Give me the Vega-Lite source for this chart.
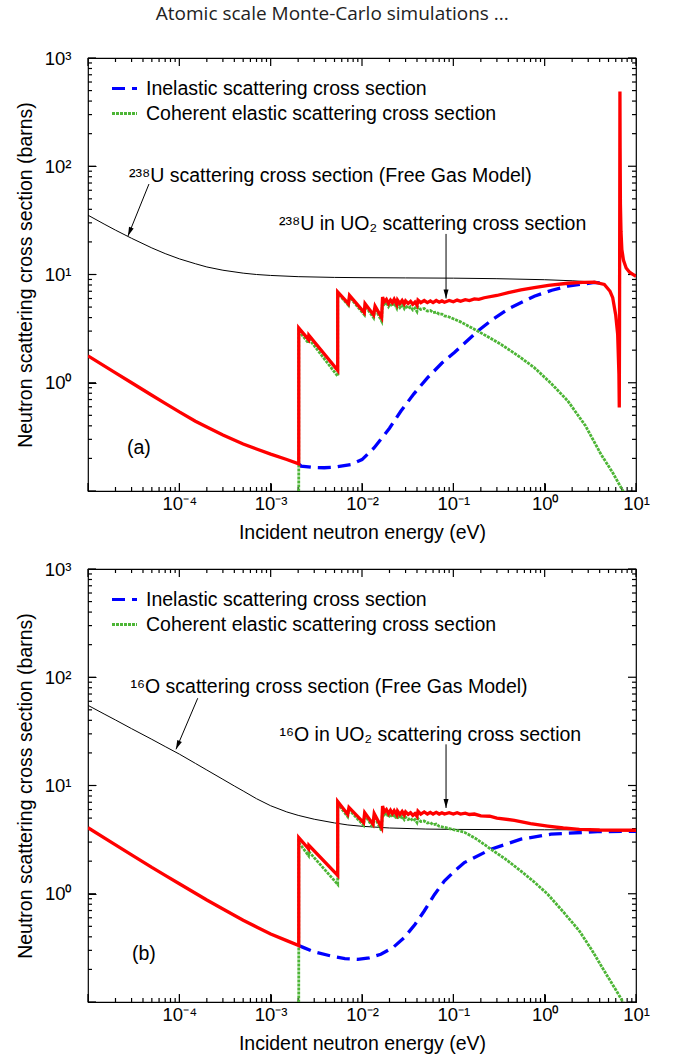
{
  "$schema": "https://vega.github.io/schema/vega-lite/v6.json",
  "background": "white",
  "padding": {"left": 14, "top": 5, "right": 5, "bottom": 5},
  "title": {"text": "Atomic scale Monte-Carlo simulations ...", "font": "Open Sans", "fontSize": 19, "fontWeight": "normal", "color": "#222222", "anchor": "middle", "offset": 24},
  "config": {
    "view": {"stroke": "black", "strokeWidth": 1.2},
    "axis": {"domain": false, "grid": false, "ticks": true, "tickColor": "black", "tickOpacity": 1, "tickWidth": 1, "labelColor": "black", "titleColor": "black", "labelFont": "Liberation Sans", "titleFont": "Liberation Sans", "labelFontSize": 18.5, "titleFontSize": 19.5, "titleFontWeight": "normal", "labelOverlap": false, "labelFlush": false, "labelBound": false},
    "legend": {"orient": "top-left", "offset": 16, "padding": 0, "symbolOffset": 6, "symbolType": "stroke", "symbolSize": 625, "symbolStrokeWidth": 3.2, "labelFont": "Liberation Sans", "labelFontSize": 19.5, "labelColor": "black", "labelOffset": 7, "labelLimit": 600, "rowPadding": 1}
  },
  "datasets": {
    "tk": [
      {"a":"x","m":1,"v":1e-5},{"a":"x","m":1,"v":1e-4},{"a":"x","m":1,"v":0.001},{"a":"x","m":1,"v":0.01},{"a":"x","m":1,"v":0.1},{"a":"x","m":1,"v":1},{"a":"x","m":1,"v":10},
      {"a":"x","m":0,"v":2e-5},{"a":"x","m":0,"v":3e-5},{"a":"x","m":0,"v":4e-5},{"a":"x","m":0,"v":5e-5},{"a":"x","m":0,"v":6e-5},{"a":"x","m":0,"v":7e-5},{"a":"x","m":0,"v":8e-5},{"a":"x","m":0,"v":9e-5},
      {"a":"x","m":0,"v":2e-4},{"a":"x","m":0,"v":3e-4},{"a":"x","m":0,"v":4e-4},{"a":"x","m":0,"v":5e-4},{"a":"x","m":0,"v":6e-4},{"a":"x","m":0,"v":7e-4},{"a":"x","m":0,"v":8e-4},{"a":"x","m":0,"v":9e-4},
      {"a":"x","m":0,"v":0.002},{"a":"x","m":0,"v":0.003},{"a":"x","m":0,"v":0.004},{"a":"x","m":0,"v":0.005},{"a":"x","m":0,"v":0.006},{"a":"x","m":0,"v":0.007},{"a":"x","m":0,"v":0.008},{"a":"x","m":0,"v":0.009},
      {"a":"x","m":0,"v":0.02},{"a":"x","m":0,"v":0.03},{"a":"x","m":0,"v":0.04},{"a":"x","m":0,"v":0.05},{"a":"x","m":0,"v":0.06},{"a":"x","m":0,"v":0.07},{"a":"x","m":0,"v":0.08},{"a":"x","m":0,"v":0.09},
      {"a":"x","m":0,"v":0.2},{"a":"x","m":0,"v":0.3},{"a":"x","m":0,"v":0.4},{"a":"x","m":0,"v":0.5},{"a":"x","m":0,"v":0.6},{"a":"x","m":0,"v":0.7},{"a":"x","m":0,"v":0.8},{"a":"x","m":0,"v":0.9},
      {"a":"x","m":0,"v":2},{"a":"x","m":0,"v":3},{"a":"x","m":0,"v":4},{"a":"x","m":0,"v":5},{"a":"x","m":0,"v":6},{"a":"x","m":0,"v":7},{"a":"x","m":0,"v":8},{"a":"x","m":0,"v":9},
      {"a":"y","m":1,"v":0.1},{"a":"y","m":1,"v":1},{"a":"y","m":1,"v":10},{"a":"y","m":1,"v":100},{"a":"y","m":1,"v":1000},
      {"a":"y","m":0,"v":0.2},{"a":"y","m":0,"v":0.3},{"a":"y","m":0,"v":0.4},{"a":"y","m":0,"v":0.5},{"a":"y","m":0,"v":0.6},{"a":"y","m":0,"v":0.7},{"a":"y","m":0,"v":0.8},{"a":"y","m":0,"v":0.9},
      {"a":"y","m":0,"v":2},{"a":"y","m":0,"v":3},{"a":"y","m":0,"v":4},{"a":"y","m":0,"v":5},{"a":"y","m":0,"v":6},{"a":"y","m":0,"v":7},{"a":"y","m":0,"v":8},{"a":"y","m":0,"v":9},
      {"a":"y","m":0,"v":20},{"a":"y","m":0,"v":30},{"a":"y","m":0,"v":40},{"a":"y","m":0,"v":50},{"a":"y","m":0,"v":60},{"a":"y","m":0,"v":70},{"a":"y","m":0,"v":80},{"a":"y","m":0,"v":90},
      {"a":"y","m":0,"v":200},{"a":"y","m":0,"v":300},{"a":"y","m":0,"v":400},{"a":"y","m":0,"v":500},{"a":"y","m":0,"v":600},{"a":"y","m":0,"v":700},{"a":"y","m":0,"v":800},{"a":"y","m":0,"v":900}
    ],
    "curves": [
      {"p":"a","k":"fg","E":1e-5,"s":35.3},{"p":"a","k":"fg","E":1.5e-5,"s":29.25},{"p":"a","k":"fg","E":2e-5,"s":25.7},{"p":"a","k":"fg","E":3e-5,"s":21.6},{"p":"a","k":"fg","E":5e-5,"s":17.6},{"p":"a","k":"fg","E":7e-5,"s":15.6},{"p":"a","k":"fg","E":1e-4,"s":13.95},{"p":"a","k":"fg","E":1.5e-4,"s":12.57},{"p":"a","k":"fg","E":2e-4,"s":11.74},{"p":"a","k":"fg","E":3e-4,"s":10.95},{"p":"a","k":"fg","E":5e-4,"s":10.29},{"p":"a","k":"fg","E":7e-4,"s":10.0},{"p":"a","k":"fg","E":1e-3,"s":9.8},{"p":"a","k":"fg","E":2e-3,"s":9.55},{"p":"a","k":"fg","E":5e-3,"s":9.4},{"p":"a","k":"fg","E":1e-2,"s":9.35},{"p":"a","k":"fg","E":3e-2,"s":9.3},{"p":"a","k":"fg","E":0.1,"s":9.25},{"p":"a","k":"fg","E":0.3,"s":9.15},{"p":"a","k":"fg","E":1,"s":8.95},{"p":"a","k":"fg","E":2,"s":8.75},{"p":"a","k":"fg","E":3.5,"s":8.5},{"p":"a","k":"fg","E":4.5,"s":8.1},

      {"p":"a","k":"tot","E":1e-5,"s":1.77},{"p":"a","k":"tot","E":2e-5,"s":1.234},{"p":"a","k":"tot","E":3e-5,"s":1.0},{"p":"a","k":"tot","E":5e-5,"s":0.767},{"p":"a","k":"tot","E":7e-5,"s":0.646},{"p":"a","k":"tot","E":1e-4,"s":0.538},{"p":"a","k":"tot","E":1.5e-4,"s":0.4415},{"p":"a","k":"tot","E":2e-4,"s":0.39},{"p":"a","k":"tot","E":3e-4,"s":0.329},{"p":"a","k":"tot","E":5e-4,"s":0.272},{"p":"a","k":"tot","E":7e-4,"s":0.244},{"p":"a","k":"tot","E":1e-3,"s":0.219},{"p":"a","k":"tot","E":1.5e-3,"s":0.1955},{"p":"a","k":"tot","E":2.03e-3,"s":0.178},{"p":"a","k":"tot","E":2.031e-3,"s":3.2},{"p":"a","k":"tot","E":2.6e-3,"s":2.5},{"p":"a","k":"tot","E":2.62e-3,"s":2.75},{"p":"a","k":"tot","E":5.42e-3,"s":1.3},{"p":"a","k":"tot","E":5.421e-3,"s":6.9},{"p":"a","k":"tot","E":7.1e-3,"s":5.37},{"p":"a","k":"tot","E":7.3e-3,"s":6.4},{"p":"a","k":"tot","E":1.06e-2,"s":4.44},{"p":"a","k":"tot","E":1.08e-2,"s":5.37},{"p":"a","k":"tot","E":1.34e-2,"s":4.23},{"p":"a","k":"tot","E":1.39e-2,"s":5.1},{"p":"a","k":"tot","E":1.64e-2,"s":4.0},{"p":"a","k":"tot","E":1.68e-2,"s":6.2},{"p":"a","k":"tot","E":1.75e-2,"s":5.6},{"p":"a","k":"tot","E":1.85e-2,"s":5.9},{"p":"a","k":"tot","E":1.95e-2,"s":5.4},{"p":"a","k":"tot","E":2.05e-2,"s":5.8},{"p":"a","k":"tot","E":2.15e-2,"s":5.5},{"p":"a","k":"tot","E":2.25e-2,"s":5.9},{"p":"a","k":"tot","E":2.4e-2,"s":5.3},{"p":"a","k":"tot","E":2.45e-2,"s":5.8},{"p":"a","k":"tot","E":2.6e-2,"s":5.4},{"p":"a","k":"tot","E":2.75e-2,"s":5.75},{"p":"a","k":"tot","E":2.9e-2,"s":5.35},{"p":"a","k":"tot","E":3.0e-2,"s":5.7},{"p":"a","k":"tot","E":3.2e-2,"s":5.4},{"p":"a","k":"tot","E":3.4e-2,"s":5.65},{"p":"a","k":"tot","E":3.6e-2,"s":5.3},{"p":"a","k":"tot","E":3.8e-2,"s":5.55},{"p":"a","k":"tot","E":4.0e-2,"s":5.2},{"p":"a","k":"tot","E":4.1e-2,"s":5.8},{"p":"a","k":"tot","E":4.4e-2,"s":5.5},{"p":"a","k":"tot","E":4.8e-2,"s":5.75},{"p":"a","k":"tot","E":5.2e-2,"s":5.5},{"p":"a","k":"tot","E":5.6e-2,"s":5.7},{"p":"a","k":"tot","E":6e-2,"s":5.5},{"p":"a","k":"tot","E":6.5e-2,"s":5.75},{"p":"a","k":"tot","E":7e-2,"s":5.55},{"p":"a","k":"tot","E":7.5e-2,"s":5.7},{"p":"a","k":"tot","E":8e-2,"s":5.55},{"p":"a","k":"tot","E":9e-2,"s":5.75},{"p":"a","k":"tot","E":0.1,"s":5.6},{"p":"a","k":"tot","E":0.11,"s":5.8},{"p":"a","k":"tot","E":0.12,"s":5.65},{"p":"a","k":"tot","E":0.135,"s":5.85},{"p":"a","k":"tot","E":0.15,"s":5.75},{"p":"a","k":"tot","E":0.17,"s":5.95},{"p":"a","k":"tot","E":0.19,"s":5.9},{"p":"a","k":"tot","E":0.218,"s":6.1},{"p":"a","k":"tot","E":0.3,"s":6.4},{"p":"a","k":"tot","E":0.4,"s":6.8},{"p":"a","k":"tot","E":0.55,"s":7.2},{"p":"a","k":"tot","E":0.77,"s":7.55},{"p":"a","k":"tot","E":1.1,"s":7.95},{"p":"a","k":"tot","E":1.79,"s":8.3},{"p":"a","k":"tot","E":2.6,"s":8.45},{"p":"a","k":"tot","E":3.5,"s":8.5},{"p":"a","k":"tot","E":4.5,"s":8.1},{"p":"a","k":"tot","E":5.2,"s":7.0},{"p":"a","k":"tot","E":5.56,"s":6.1},{"p":"a","k":"tot","E":6.0,"s":4.2},{"p":"a","k":"tot","E":6.3,"s":2.8},{"p":"a","k":"tot","E":6.5,"s":1.2},{"p":"a","k":"tot","E":6.56,"s":0.59},{"p":"a","k":"tot","E":6.6,"s":3},{"p":"a","k":"tot","E":6.64,"s":50},{"p":"a","k":"tot","E":6.67,"s":490},{"p":"a","k":"tot","E":6.7,"s":150},{"p":"a","k":"tot","E":6.75,"s":45},{"p":"a","k":"tot","E":6.85,"s":25},{"p":"a","k":"tot","E":7.0,"s":17},{"p":"a","k":"tot","E":7.3,"s":13.5},{"p":"a","k":"tot","E":7.8,"s":11.5},{"p":"a","k":"tot","E":8.5,"s":10.5},{"p":"a","k":"tot","E":10,"s":9.6},

      {"p":"a","k":"inel","E":2.03e-3,"s":0.178},{"p":"a","k":"inel","E":2.15e-3,"s":0.17},{"p":"a","k":"inel","E":3e-3,"s":0.165},{"p":"a","k":"inel","E":3.86e-3,"s":0.164},{"p":"a","k":"inel","E":5e-3,"s":0.166},{"p":"a","k":"inel","E":7.6e-3,"s":0.176},{"p":"a","k":"inel","E":1e-2,"s":0.195},{"p":"a","k":"inel","E":1.36e-2,"s":0.251},{"p":"a","k":"inel","E":2e-2,"s":0.38},{"p":"a","k":"inel","E":2.67e-2,"s":0.548},{"p":"a","k":"inel","E":3.7e-2,"s":0.79},{"p":"a","k":"inel","E":5.2e-2,"s":1.11},{"p":"a","k":"inel","E":7.5e-2,"s":1.52},{"p":"a","k":"inel","E":0.1027,"s":1.9},{"p":"a","k":"inel","E":0.185,"s":3.0},{"p":"a","k":"inel","E":0.27,"s":3.85},{"p":"a","k":"inel","E":0.394,"s":4.78},{"p":"a","k":"inel","E":0.77,"s":6.3},{"p":"a","k":"inel","E":1.2,"s":7.15},{"p":"a","k":"inel","E":1.79,"s":7.8},{"p":"a","k":"inel","E":3.5,"s":8.45},{"p":"a","k":"inel","E":4.2,"s":8.35},

      {"p":"a","k":"coh","E":2.03e-3,"s":0.05},{"p":"a","k":"coh","E":2.031e-3,"s":3.0},{"p":"a","k":"coh","E":2.6e-3,"s":2.33},{"p":"a","k":"coh","E":2.62e-3,"s":2.55},{"p":"a","k":"coh","E":5.42e-3,"s":1.15},{"p":"a","k":"coh","E":5.421e-3,"s":6.7},{"p":"a","k":"coh","E":7.1e-3,"s":5.2},{"p":"a","k":"coh","E":7.3e-3,"s":6.2},{"p":"a","k":"coh","E":1.06e-2,"s":4.25},{"p":"a","k":"coh","E":1.08e-2,"s":5.15},{"p":"a","k":"coh","E":1.34e-2,"s":3.98},{"p":"a","k":"coh","E":1.39e-2,"s":4.85},{"p":"a","k":"coh","E":1.64e-2,"s":3.72},{"p":"a","k":"coh","E":1.68e-2,"s":5.9},{"p":"a","k":"coh","E":1.75e-2,"s":5.3},{"p":"a","k":"coh","E":1.85e-2,"s":5.55},{"p":"a","k":"coh","E":1.95e-2,"s":5.05},{"p":"a","k":"coh","E":2.05e-2,"s":5.4},{"p":"a","k":"coh","E":2.15e-2,"s":5.1},{"p":"a","k":"coh","E":2.25e-2,"s":5.45},{"p":"a","k":"coh","E":2.4e-2,"s":4.9},{"p":"a","k":"coh","E":2.45e-2,"s":5.35},{"p":"a","k":"coh","E":2.6e-2,"s":4.95},{"p":"a","k":"coh","E":2.75e-2,"s":5.25},{"p":"a","k":"coh","E":2.9e-2,"s":4.85},{"p":"a","k":"coh","E":3.0e-2,"s":5.15},{"p":"a","k":"coh","E":3.2e-2,"s":4.85},{"p":"a","k":"coh","E":3.4e-2,"s":5.05},{"p":"a","k":"coh","E":3.6e-2,"s":4.7},{"p":"a","k":"coh","E":3.8e-2,"s":4.9},{"p":"a","k":"coh","E":4.0e-2,"s":4.55},{"p":"a","k":"coh","E":4.1e-2,"s":5.0},{"p":"a","k":"coh","E":4.4e-2,"s":4.75},{"p":"a","k":"coh","E":4.8e-2,"s":4.85},{"p":"a","k":"coh","E":5.2e-2,"s":4.6},{"p":"a","k":"coh","E":5.6e-2,"s":4.65},{"p":"a","k":"coh","E":6e-2,"s":4.45},{"p":"a","k":"coh","E":6.5e-2,"s":4.5},{"p":"a","k":"coh","E":7e-2,"s":4.3},{"p":"a","k":"coh","E":7.5e-2,"s":4.3},{"p":"a","k":"coh","E":8e-2,"s":4.15},{"p":"a","k":"coh","E":9e-2,"s":4.05},{"p":"a","k":"coh","E":0.1,"s":3.9},{"p":"a","k":"coh","E":0.12,"s":3.65},{"p":"a","k":"coh","E":0.15,"s":3.3},{"p":"a","k":"coh","E":0.185,"s":3.0},{"p":"a","k":"coh","E":0.25,"s":2.6},{"p":"a","k":"coh","E":0.333,"s":2.26},{"p":"a","k":"coh","E":0.5,"s":1.8},{"p":"a","k":"coh","E":0.77,"s":1.38},{"p":"a","k":"coh","E":1.2,"s":0.97},{"p":"a","k":"coh","E":1.79,"s":0.68},{"p":"a","k":"coh","E":2.8,"s":0.4},{"p":"a","k":"coh","E":4.14,"s":0.218},{"p":"a","k":"coh","E":5.5,"s":0.15},{"p":"a","k":"coh","E":7.2,"s":0.1},{"p":"a","k":"coh","E":8,"s":0.085},

      {"p":"b","k":"fg","E":1e-5,"s":55},{"p":"b","k":"fg","E":1.5e-5,"s":45.8},{"p":"b","k":"fg","E":2e-5,"s":40.3},{"p":"b","k":"fg","E":3e-5,"s":33.5},{"p":"b","k":"fg","E":5e-5,"s":26.7},{"p":"b","k":"fg","E":7e-5,"s":22.9},{"p":"b","k":"fg","E":1e-4,"s":19.5},{"p":"b","k":"fg","E":1.5e-4,"s":16.0},{"p":"b","k":"fg","E":2e-4,"s":13.9},{"p":"b","k":"fg","E":3e-4,"s":11.4},{"p":"b","k":"fg","E":4e-4,"s":9.9},{"p":"b","k":"fg","E":5e-4,"s":8.9},{"p":"b","k":"fg","E":7e-4,"s":7.55},{"p":"b","k":"fg","E":1e-3,"s":6.5},{"p":"b","k":"fg","E":1.5e-3,"s":5.7},{"p":"b","k":"fg","E":2e-3,"s":5.3},{"p":"b","k":"fg","E":3e-3,"s":4.88},{"p":"b","k":"fg","E":5e-3,"s":4.51},{"p":"b","k":"fg","E":7e-3,"s":4.32},{"p":"b","k":"fg","E":1e-2,"s":4.2},{"p":"b","k":"fg","E":2e-2,"s":4.05},{"p":"b","k":"fg","E":5e-2,"s":3.96},{"p":"b","k":"fg","E":0.1,"s":3.93},{"p":"b","k":"fg","E":1,"s":3.9},{"p":"b","k":"fg","E":10,"s":3.9},

      {"p":"b","k":"tot","E":1e-5,"s":4.07},{"p":"b","k":"tot","E":2e-5,"s":2.83},{"p":"b","k":"tot","E":3e-5,"s":2.29},{"p":"b","k":"tot","E":5e-5,"s":1.75},{"p":"b","k":"tot","E":7e-5,"s":1.479},{"p":"b","k":"tot","E":1e-4,"s":1.237},{"p":"b","k":"tot","E":1.5e-4,"s":1.01},{"p":"b","k":"tot","E":2e-4,"s":0.875},{"p":"b","k":"tot","E":3e-4,"s":0.723},{"p":"b","k":"tot","E":5e-4,"s":0.569},{"p":"b","k":"tot","E":7e-4,"s":0.494},{"p":"b","k":"tot","E":1e-3,"s":0.425},{"p":"b","k":"tot","E":1.5e-3,"s":0.369},{"p":"b","k":"tot","E":2.03e-3,"s":0.332},{"p":"b","k":"tot","E":2.031e-3,"s":3.3},{"p":"b","k":"tot","E":2.6e-3,"s":2.6},{"p":"b","k":"tot","E":2.62e-3,"s":2.8},{"p":"b","k":"tot","E":5.42e-3,"s":1.48},{"p":"b","k":"tot","E":5.421e-3,"s":7.1},{"p":"b","k":"tot","E":6.97e-3,"s":5.42},{"p":"b","k":"tot","E":7.2e-3,"s":6.28},{"p":"b","k":"tot","E":1.04e-2,"s":4.54},{"p":"b","k":"tot","E":1.07e-2,"s":5.61},{"p":"b","k":"tot","E":1.32e-2,"s":4.38},{"p":"b","k":"tot","E":1.36e-2,"s":5.5},{"p":"b","k":"tot","E":1.64e-2,"s":4.08},{"p":"b","k":"tot","E":1.68e-2,"s":6.47},{"p":"b","k":"tot","E":1.75e-2,"s":5.7},{"p":"b","k":"tot","E":1.85e-2,"s":6.0},{"p":"b","k":"tot","E":1.95e-2,"s":5.5},{"p":"b","k":"tot","E":2.05e-2,"s":5.9},{"p":"b","k":"tot","E":2.15e-2,"s":5.5},{"p":"b","k":"tot","E":2.25e-2,"s":5.85},{"p":"b","k":"tot","E":2.4e-2,"s":5.35},{"p":"b","k":"tot","E":2.45e-2,"s":5.8},{"p":"b","k":"tot","E":2.6e-2,"s":5.4},{"p":"b","k":"tot","E":2.75e-2,"s":5.75},{"p":"b","k":"tot","E":2.9e-2,"s":5.35},{"p":"b","k":"tot","E":3.0e-2,"s":5.7},{"p":"b","k":"tot","E":3.2e-2,"s":5.4},{"p":"b","k":"tot","E":3.4e-2,"s":5.6},{"p":"b","k":"tot","E":3.6e-2,"s":5.3},{"p":"b","k":"tot","E":3.8e-2,"s":5.5},{"p":"b","k":"tot","E":4.0e-2,"s":5.2},{"p":"b","k":"tot","E":4.1e-2,"s":5.8},{"p":"b","k":"tot","E":4.4e-2,"s":5.45},{"p":"b","k":"tot","E":4.8e-2,"s":5.7},{"p":"b","k":"tot","E":5.2e-2,"s":5.45},{"p":"b","k":"tot","E":5.6e-2,"s":5.65},{"p":"b","k":"tot","E":6e-2,"s":5.45},{"p":"b","k":"tot","E":6.5e-2,"s":5.65},{"p":"b","k":"tot","E":7e-2,"s":5.45},{"p":"b","k":"tot","E":7.5e-2,"s":5.6},{"p":"b","k":"tot","E":8e-2,"s":5.45},{"p":"b","k":"tot","E":9e-2,"s":5.6},{"p":"b","k":"tot","E":0.1,"s":5.45},{"p":"b","k":"tot","E":0.11,"s":5.6},{"p":"b","k":"tot","E":0.12,"s":5.45},{"p":"b","k":"tot","E":0.135,"s":5.55},{"p":"b","k":"tot","E":0.15,"s":5.4},{"p":"b","k":"tot","E":0.17,"s":5.45},{"p":"b","k":"tot","E":0.2,"s":5.25},{"p":"b","k":"tot","E":0.25,"s":5.2},{"p":"b","k":"tot","E":0.3,"s":5.0},{"p":"b","k":"tot","E":0.466,"s":4.77},{"p":"b","k":"tot","E":0.7,"s":4.45},{"p":"b","k":"tot","E":1.08,"s":4.22},{"p":"b","k":"tot","E":1.6,"s":4.05},{"p":"b","k":"tot","E":2.4,"s":3.94},{"p":"b","k":"tot","E":4,"s":3.88},{"p":"b","k":"tot","E":10,"s":3.86},

      {"p":"b","k":"inel","E":2.03e-3,"s":0.332},{"p":"b","k":"inel","E":2.3e-3,"s":0.318},{"p":"b","k":"inel","E":3e-3,"s":0.29},{"p":"b","k":"inel","E":4.6e-3,"s":0.266},{"p":"b","k":"inel","E":6.5e-3,"s":0.252},{"p":"b","k":"inel","E":8.97e-3,"s":0.248},{"p":"b","k":"inel","E":1.2e-2,"s":0.256},{"p":"b","k":"inel","E":1.61e-2,"s":0.276},{"p":"b","k":"inel","E":2.2e-2,"s":0.32},{"p":"b","k":"inel","E":2.9e-2,"s":0.393},{"p":"b","k":"inel","E":3.8e-2,"s":0.52},{"p":"b","k":"inel","E":4.8e-2,"s":0.693},{"p":"b","k":"inel","E":6.2e-2,"s":0.98},{"p":"b","k":"inel","E":7.96e-2,"s":1.31},{"p":"b","k":"inel","E":0.1,"s":1.58},{"p":"b","k":"inel","E":0.132,"s":1.94},{"p":"b","k":"inel","E":0.258,"s":2.58},{"p":"b","k":"inel","E":0.55,"s":3.19},{"p":"b","k":"inel","E":1.17,"s":3.55},{"p":"b","k":"inel","E":3.8,"s":3.75},{"p":"b","k":"inel","E":10,"s":3.77},

      {"p":"b","k":"coh","E":2.03e-3,"s":0.05},{"p":"b","k":"coh","E":2.031e-3,"s":2.97},{"p":"b","k":"coh","E":2.6e-3,"s":2.25},{"p":"b","k":"coh","E":2.62e-3,"s":2.45},{"p":"b","k":"coh","E":5.42e-3,"s":1.22},{"p":"b","k":"coh","E":5.421e-3,"s":6.8},{"p":"b","k":"coh","E":6.97e-3,"s":5.15},{"p":"b","k":"coh","E":7.2e-3,"s":6.0},{"p":"b","k":"coh","E":1.04e-2,"s":4.28},{"p":"b","k":"coh","E":1.07e-2,"s":5.35},{"p":"b","k":"coh","E":1.32e-2,"s":4.1},{"p":"b","k":"coh","E":1.36e-2,"s":5.2},{"p":"b","k":"coh","E":1.64e-2,"s":3.8},{"p":"b","k":"coh","E":1.68e-2,"s":6.1},{"p":"b","k":"coh","E":1.75e-2,"s":5.35},{"p":"b","k":"coh","E":1.85e-2,"s":5.6},{"p":"b","k":"coh","E":1.95e-2,"s":5.1},{"p":"b","k":"coh","E":2.05e-2,"s":5.45},{"p":"b","k":"coh","E":2.15e-2,"s":5.1},{"p":"b","k":"coh","E":2.25e-2,"s":5.4},{"p":"b","k":"coh","E":2.4e-2,"s":4.9},{"p":"b","k":"coh","E":2.45e-2,"s":5.3},{"p":"b","k":"coh","E":2.6e-2,"s":4.95},{"p":"b","k":"coh","E":2.75e-2,"s":5.2},{"p":"b","k":"coh","E":2.9e-2,"s":4.85},{"p":"b","k":"coh","E":3.0e-2,"s":5.1},{"p":"b","k":"coh","E":3.2e-2,"s":4.85},{"p":"b","k":"coh","E":3.4e-2,"s":5.0},{"p":"b","k":"coh","E":3.6e-2,"s":4.7},{"p":"b","k":"coh","E":3.8e-2,"s":4.85},{"p":"b","k":"coh","E":4.0e-2,"s":4.55},{"p":"b","k":"coh","E":4.1e-2,"s":4.95},{"p":"b","k":"coh","E":4.4e-2,"s":4.65},{"p":"b","k":"coh","E":4.8e-2,"s":4.7},{"p":"b","k":"coh","E":5.2e-2,"s":4.5},{"p":"b","k":"coh","E":5.6e-2,"s":4.55},{"p":"b","k":"coh","E":6e-2,"s":4.35},{"p":"b","k":"coh","E":6.5e-2,"s":4.4},{"p":"b","k":"coh","E":7e-2,"s":4.2},{"p":"b","k":"coh","E":8e-2,"s":4.1},{"p":"b","k":"coh","E":9e-2,"s":4.0},{"p":"b","k":"coh","E":0.1,"s":3.92},{"p":"b","k":"coh","E":0.132,"s":3.7},{"p":"b","k":"coh","E":0.18,"s":3.2},{"p":"b","k":"coh","E":0.258,"s":2.58},{"p":"b","k":"coh","E":0.37,"s":2.1},{"p":"b","k":"coh","E":0.55,"s":1.62},{"p":"b","k":"coh","E":0.78,"s":1.27},{"p":"b","k":"coh","E":1.08,"s":0.99},{"p":"b","k":"coh","E":1.6,"s":0.68},{"p":"b","k":"coh","E":2.4,"s":0.453},{"p":"b","k":"coh","E":3.3,"s":0.3},{"p":"b","k":"coh","E":4.5,"s":0.193},{"p":"b","k":"coh","E":6,"s":0.13},{"p":"b","k":"coh","E":7.2,"s":0.1},{"p":"b","k":"coh","E":8,"s":0.085}
    ],
    "notes": [
      {"p":"a","t":"²³⁸U scattering cross section (Free Gas Model)","E":2.81e-5,"s":82},
      {"p":"a","t":"²³⁸U in UO₂ scattering cross section","E":1.233e-3,"s":29},
      {"p":"a","t":"(a)","E":2.67e-5,"s":0.25},
      {"p":"b","t":"¹⁶O scattering cross section (Free Gas Model)","E":2.92e-5,"s":82},
      {"p":"b","t":"¹⁶O in UO₂ scattering cross section","E":1.25e-3,"s":29},
      {"p":"b","t":"(b)","E":3.03e-5,"s":0.28}
    ],
    "arrows": [
      {"p":"a","id":"d","end":0,"E":4.65e-5,"s":68.5},{"p":"a","id":"d","end":1,"E":2.74e-5,"s":22.7},
      {"p":"a","id":"v","end":0,"E":0.0832,"s":23.7},{"p":"a","id":"v","end":1,"E":0.0832,"s":6.0},
      {"p":"b","id":"d","end":0,"E":1.59e-4,"s":64},{"p":"b","id":"d","end":1,"E":9.2e-5,"s":21.6},
      {"p":"b","id":"v","end":0,"E":0.0832,"s":24},{"p":"b","id":"v","end":1,"E":0.0832,"s":6.2}
    ]
  },
  "bounds": "flush",
  "spacing": 78,
  "resolve": {"scale": {"color": "independent", "strokeDash": "independent"}, "legend": {"color": "independent", "strokeDash": "independent"}},
  "vconcat": [
    {
      "width": 548, "height": 433,
      "resolve": {"axis": {"x": "independent", "y": "independent"}},
      "layer": [
        {"data": {"name": "tk"}, "transform": [{"filter": "datum.a=='x' && datum.m==1"}], "mark": {"type": "rule", "color": "black", "strokeWidth": 1.2},
         "encoding": {"x": {"field": "v", "type": "quantitative", "scale": {"type": "log", "domain": [1e-5, 10], "nice": false}, "axis": null},
                      "y": {"datum": 0.1, "type": "quantitative", "scale": {"type": "log", "domain": [0.1, 1000], "nice": false}, "axis": null}, "y2": {"datum": 0.11855}}},
        {"data": {"name": "tk"}, "transform": [{"filter": "datum.a=='x' && datum.m==1"}], "mark": {"type": "rule", "color": "black", "strokeWidth": 1.2},
         "encoding": {"x": {"field": "v", "type": "quantitative", "scale": {"type": "log", "domain": [1e-5, 10], "nice": false}, "axis": null},
                      "y": {"datum": 1000, "type": "quantitative", "scale": {"type": "log", "domain": [0.1, 1000], "nice": false}, "axis": null}, "y2": {"datum": 843.5}}},
        {"data": {"name": "tk"}, "transform": [{"filter": "datum.a=='x' && datum.m==0"}], "mark": {"type": "rule", "color": "black", "strokeWidth": 1.2},
         "encoding": {"x": {"field": "v", "type": "quantitative", "scale": {"type": "log", "domain": [1e-5, 10], "nice": false}, "axis": null},
                      "y": {"datum": 0.1, "type": "quantitative", "scale": {"type": "log", "domain": [0.1, 1000], "nice": false}, "axis": null}, "y2": {"datum": 0.10888}}},
        {"data": {"name": "tk"}, "transform": [{"filter": "datum.a=='x' && datum.m==0"}], "mark": {"type": "rule", "color": "black", "strokeWidth": 1.2},
         "encoding": {"x": {"field": "v", "type": "quantitative", "scale": {"type": "log", "domain": [1e-5, 10], "nice": false}, "axis": null},
                      "y": {"datum": 1000, "type": "quantitative", "scale": {"type": "log", "domain": [0.1, 1000], "nice": false}, "axis": null}, "y2": {"datum": 918.4}}},
        {"data": {"name": "tk"}, "transform": [{"filter": "datum.a=='y' && datum.m==1"}], "mark": {"type": "rule", "color": "black", "strokeWidth": 1.2},
         "encoding": {"y": {"field": "v", "type": "quantitative", "scale": {"type": "log", "domain": [0.1, 1000], "nice": false}, "axis": null},
                      "x": {"datum": 1e-5, "type": "quantitative", "scale": {"type": "log", "domain": [1e-5, 10], "nice": false}, "axis": null}, "x2": {"datum": 1.2236e-5}}},
        {"data": {"name": "tk"}, "transform": [{"filter": "datum.a=='y' && datum.m==1"}], "mark": {"type": "rule", "color": "black", "strokeWidth": 1.2},
         "encoding": {"y": {"field": "v", "type": "quantitative", "scale": {"type": "log", "domain": [0.1, 1000], "nice": false}, "axis": null},
                      "x": {"datum": 10, "type": "quantitative", "scale": {"type": "log", "domain": [1e-5, 10], "nice": false}, "axis": null}, "x2": {"datum": 8.173}}},
        {"data": {"name": "tk"}, "transform": [{"filter": "datum.a=='y' && datum.m==0"}], "mark": {"type": "rule", "color": "black", "strokeWidth": 1.2},
         "encoding": {"y": {"field": "v", "type": "quantitative", "scale": {"type": "log", "domain": [0.1, 1000], "nice": false}, "axis": null},
                      "x": {"datum": 1e-5, "type": "quantitative", "scale": {"type": "log", "domain": [1e-5, 10], "nice": false}, "axis": null}, "x2": {"datum": 1.106e-5}}},
        {"data": {"name": "tk"}, "transform": [{"filter": "datum.a=='y' && datum.m==0"}], "mark": {"type": "rule", "color": "black", "strokeWidth": 1.2},
         "encoding": {"y": {"field": "v", "type": "quantitative", "scale": {"type": "log", "domain": [0.1, 1000], "nice": false}, "axis": null},
                      "x": {"datum": 10, "type": "quantitative", "scale": {"type": "log", "domain": [1e-5, 10], "nice": false}, "axis": null}, "x2": {"datum": 9.042}}},
        {"data": {"name": "curves"}, "transform": [{"filter": "datum.p=='a' && datum.k=='fg'"}],
         "mark": {"type": "line", "color": "black", "strokeWidth": 1, "clip": true},
         "encoding": {
           "x": {"field": "E", "type": "quantitative", "scale": {"type": "log", "domain": [1e-5, 10], "nice": false},
                 "axis": {"orient": "bottom", "values": [1e-5,1e-4,0.001,0.01,0.1,1,10], "offset": -8, "tickSize": 8, "labelPadding": 3, "labelExpr": "datum.value==0.0001?'10⁻⁴':datum.value==0.001?'10⁻³':datum.value==0.01?'10⁻²':datum.value==0.1?'10⁻¹':datum.value==1?'10⁰':datum.value==10?'10¹':''", "title": "Incident neutron energy (eV)", "titlePadding": 11}},
           "y": {"field": "s", "type": "quantitative", "scale": {"type": "log", "domain": [0.1, 1000], "nice": false},
                 "axis": {"orient": "left", "values": [0.1,1,10,100,1000], "offset": -8, "tickSize": 8, "labelPadding": 17, "labelExpr": "datum.value==1?'10⁰':datum.value==10?'10¹':datum.value==100?'10²':datum.value==1000?'10³':''", "title": "Neutron scattering cross section (barns)", "titlePadding": 9}}
         }},
        {"data": {"name": "curves"}, "transform": [{"filter": "datum.p=='a' && datum.k=='inel'"}],
         "mark": {"type": "line", "strokeWidth": 3.3, "clip": true, "strokeCap": "butt"},
         "encoding": {
           "x": {"field": "E", "type": "quantitative", "scale": {"type": "log", "domain": [1e-5, 10], "nice": false}, "axis": null},
           "y": {"field": "s", "type": "quantitative", "scale": {"type": "log", "domain": [0.1, 1000], "nice": false}, "axis": null},
           "color": {"field": "k", "type": "nominal", "scale": {"domain": ["inel", "coh"], "range": ["#0000ff", "#4db536"]},
                     "legend": {"title": null, "labelExpr": "datum.value=='inel'?'Inelastic scattering cross section':'Coherent elastic scattering cross section'"}},
           "strokeDash": {"field": "k", "type": "nominal", "scale": {"domain": ["inel", "coh"], "range": [[13, 7], [3, 1]]},
                     "legend": {"title": null, "labelExpr": "datum.value=='inel'?'Inelastic scattering cross section':'Coherent elastic scattering cross section'"}}
         }},
        {"data": {"name": "curves"}, "transform": [{"filter": "datum.p=='a' && datum.k=='coh'"}],
         "mark": {"type": "line", "strokeWidth": 2.8, "clip": true, "strokeCap": "butt"},
         "encoding": {
           "x": {"field": "E", "type": "quantitative", "scale": {"type": "log", "domain": [1e-5, 10], "nice": false}, "axis": null},
           "y": {"field": "s", "type": "quantitative", "scale": {"type": "log", "domain": [0.1, 1000], "nice": false}, "axis": null},
           "color": {"field": "k", "type": "nominal", "scale": {"domain": ["inel", "coh"], "range": ["#0000ff", "#4db536"]},
                     "legend": {"title": null, "labelExpr": "datum.value=='inel'?'Inelastic scattering cross section':'Coherent elastic scattering cross section'"}},
           "strokeDash": {"field": "k", "type": "nominal", "scale": {"domain": ["inel", "coh"], "range": [[13, 7], [3, 1]]},
                     "legend": {"title": null, "labelExpr": "datum.value=='inel'?'Inelastic scattering cross section':'Coherent elastic scattering cross section'"}}
         }},
        {"data": {"name": "curves"}, "transform": [{"filter": "datum.p=='a' && datum.k=='tot'"}],
         "mark": {"type": "line", "color": "#ff0000", "strokeWidth": 3.3, "clip": true},
         "encoding": {
           "x": {"field": "E", "type": "quantitative", "scale": {"type": "log", "domain": [1e-5, 10], "nice": false}, "axis": null},
           "y": {"field": "s", "type": "quantitative", "scale": {"type": "log", "domain": [0.1, 1000], "nice": false}, "axis": null}
         }},
        {"data": {"name": "notes"}, "transform": [{"filter": "datum.p=='a'"}],
         "mark": {"type": "text", "align": "left", "baseline": "middle", "font": "Liberation Sans", "fontSize": 19.5, "color": "black"},
         "encoding": {
           "x": {"field": "E", "type": "quantitative", "scale": {"type": "log", "domain": [1e-5, 10], "nice": false}, "axis": null},
           "y": {"field": "s", "type": "quantitative", "scale": {"type": "log", "domain": [0.1, 1000], "nice": false}, "axis": null},
           "text": {"field": "t"}
         }},
        {"data": {"name": "arrows"}, "transform": [{"filter": "datum.p=='a'"}],
         "mark": {"type": "line", "color": "black", "strokeWidth": 1},
         "encoding": {
           "x": {"field": "E", "type": "quantitative", "scale": {"type": "log", "domain": [1e-5, 10], "nice": false}, "axis": null},
           "y": {"field": "s", "type": "quantitative", "scale": {"type": "log", "domain": [0.1, 1000], "nice": false}, "axis": null},
           "detail": {"field": "id"}
         }},
        {"data": {"name": "arrows"}, "transform": [{"filter": "datum.p=='a' && datum.id=='v' && datum.end==1"}],
         "mark": {"type": "point", "shape": "M0,0L-0.5,-1.8L0.5,-1.8Z", "size": 100, "filled": true, "color": "black", "opacity": 1},
         "encoding": {
           "x": {"field": "E", "type": "quantitative", "scale": {"type": "log", "domain": [1e-5, 10], "nice": false}, "axis": null},
           "y": {"field": "s", "type": "quantitative", "scale": {"type": "log", "domain": [0.1, 1000], "nice": false}, "axis": null}
         }},
        {"data": {"name": "arrows"}, "transform": [{"filter": "datum.p=='a' && datum.id=='d' && datum.end==1"}],
         "mark": {"type": "point", "shape": "M0,0L-0.5,-1.8L0.5,-1.8Z", "size": 100, "filled": true, "color": "black", "opacity": 1, "angle": 22},
         "encoding": {
           "x": {"field": "E", "type": "quantitative", "scale": {"type": "log", "domain": [1e-5, 10], "nice": false}, "axis": null},
           "y": {"field": "s", "type": "quantitative", "scale": {"type": "log", "domain": [0.1, 1000], "nice": false}, "axis": null}
         }}
      ]
    },
    {
      "width": 548, "height": 433,
      "resolve": {"axis": {"x": "independent", "y": "independent"}},
      "layer": [
        {"data": {"name": "tk"}, "transform": [{"filter": "datum.a=='x' && datum.m==1"}], "mark": {"type": "rule", "color": "black", "strokeWidth": 1.2},
         "encoding": {"x": {"field": "v", "type": "quantitative", "scale": {"type": "log", "domain": [1e-5, 10], "nice": false}, "axis": null},
                      "y": {"datum": 0.1, "type": "quantitative", "scale": {"type": "log", "domain": [0.1, 1000], "nice": false}, "axis": null}, "y2": {"datum": 0.11855}}},
        {"data": {"name": "tk"}, "transform": [{"filter": "datum.a=='x' && datum.m==1"}], "mark": {"type": "rule", "color": "black", "strokeWidth": 1.2},
         "encoding": {"x": {"field": "v", "type": "quantitative", "scale": {"type": "log", "domain": [1e-5, 10], "nice": false}, "axis": null},
                      "y": {"datum": 1000, "type": "quantitative", "scale": {"type": "log", "domain": [0.1, 1000], "nice": false}, "axis": null}, "y2": {"datum": 843.5}}},
        {"data": {"name": "tk"}, "transform": [{"filter": "datum.a=='x' && datum.m==0"}], "mark": {"type": "rule", "color": "black", "strokeWidth": 1.2},
         "encoding": {"x": {"field": "v", "type": "quantitative", "scale": {"type": "log", "domain": [1e-5, 10], "nice": false}, "axis": null},
                      "y": {"datum": 0.1, "type": "quantitative", "scale": {"type": "log", "domain": [0.1, 1000], "nice": false}, "axis": null}, "y2": {"datum": 0.10888}}},
        {"data": {"name": "tk"}, "transform": [{"filter": "datum.a=='x' && datum.m==0"}], "mark": {"type": "rule", "color": "black", "strokeWidth": 1.2},
         "encoding": {"x": {"field": "v", "type": "quantitative", "scale": {"type": "log", "domain": [1e-5, 10], "nice": false}, "axis": null},
                      "y": {"datum": 1000, "type": "quantitative", "scale": {"type": "log", "domain": [0.1, 1000], "nice": false}, "axis": null}, "y2": {"datum": 918.4}}},
        {"data": {"name": "tk"}, "transform": [{"filter": "datum.a=='y' && datum.m==1"}], "mark": {"type": "rule", "color": "black", "strokeWidth": 1.2},
         "encoding": {"y": {"field": "v", "type": "quantitative", "scale": {"type": "log", "domain": [0.1, 1000], "nice": false}, "axis": null},
                      "x": {"datum": 1e-5, "type": "quantitative", "scale": {"type": "log", "domain": [1e-5, 10], "nice": false}, "axis": null}, "x2": {"datum": 1.2236e-5}}},
        {"data": {"name": "tk"}, "transform": [{"filter": "datum.a=='y' && datum.m==1"}], "mark": {"type": "rule", "color": "black", "strokeWidth": 1.2},
         "encoding": {"y": {"field": "v", "type": "quantitative", "scale": {"type": "log", "domain": [0.1, 1000], "nice": false}, "axis": null},
                      "x": {"datum": 10, "type": "quantitative", "scale": {"type": "log", "domain": [1e-5, 10], "nice": false}, "axis": null}, "x2": {"datum": 8.173}}},
        {"data": {"name": "tk"}, "transform": [{"filter": "datum.a=='y' && datum.m==0"}], "mark": {"type": "rule", "color": "black", "strokeWidth": 1.2},
         "encoding": {"y": {"field": "v", "type": "quantitative", "scale": {"type": "log", "domain": [0.1, 1000], "nice": false}, "axis": null},
                      "x": {"datum": 1e-5, "type": "quantitative", "scale": {"type": "log", "domain": [1e-5, 10], "nice": false}, "axis": null}, "x2": {"datum": 1.106e-5}}},
        {"data": {"name": "tk"}, "transform": [{"filter": "datum.a=='y' && datum.m==0"}], "mark": {"type": "rule", "color": "black", "strokeWidth": 1.2},
         "encoding": {"y": {"field": "v", "type": "quantitative", "scale": {"type": "log", "domain": [0.1, 1000], "nice": false}, "axis": null},
                      "x": {"datum": 10, "type": "quantitative", "scale": {"type": "log", "domain": [1e-5, 10], "nice": false}, "axis": null}, "x2": {"datum": 9.042}}},
        {"data": {"name": "curves"}, "transform": [{"filter": "datum.p=='b' && datum.k=='fg'"}],
         "mark": {"type": "line", "color": "black", "strokeWidth": 1, "clip": true},
         "encoding": {
           "x": {"field": "E", "type": "quantitative", "scale": {"type": "log", "domain": [1e-5, 10], "nice": false},
                 "axis": {"orient": "bottom", "values": [1e-5,1e-4,0.001,0.01,0.1,1,10], "offset": -8, "tickSize": 8, "labelPadding": 3, "labelExpr": "datum.value==0.0001?'10⁻⁴':datum.value==0.001?'10⁻³':datum.value==0.01?'10⁻²':datum.value==0.1?'10⁻¹':datum.value==1?'10⁰':datum.value==10?'10¹':''", "title": "Incident neutron energy (eV)", "titlePadding": 11}},
           "y": {"field": "s", "type": "quantitative", "scale": {"type": "log", "domain": [0.1, 1000], "nice": false},
                 "axis": {"orient": "left", "values": [0.1,1,10,100,1000], "offset": -8, "tickSize": 8, "labelPadding": 17, "labelExpr": "datum.value==1?'10⁰':datum.value==10?'10¹':datum.value==100?'10²':datum.value==1000?'10³':''", "title": "Neutron scattering cross section (barns)", "titlePadding": 9}}
         }},
        {"data": {"name": "curves"}, "transform": [{"filter": "datum.p=='b' && datum.k=='inel'"}],
         "mark": {"type": "line", "strokeWidth": 3.3, "clip": true, "strokeCap": "butt"},
         "encoding": {
           "x": {"field": "E", "type": "quantitative", "scale": {"type": "log", "domain": [1e-5, 10], "nice": false}, "axis": null},
           "y": {"field": "s", "type": "quantitative", "scale": {"type": "log", "domain": [0.1, 1000], "nice": false}, "axis": null},
           "color": {"field": "k", "type": "nominal", "scale": {"domain": ["inel", "coh"], "range": ["#0000ff", "#4db536"]},
                     "legend": {"title": null, "labelExpr": "datum.value=='inel'?'Inelastic scattering cross section':'Coherent elastic scattering cross section'"}},
           "strokeDash": {"field": "k", "type": "nominal", "scale": {"domain": ["inel", "coh"], "range": [[13, 7], [3, 1]]},
                     "legend": {"title": null, "labelExpr": "datum.value=='inel'?'Inelastic scattering cross section':'Coherent elastic scattering cross section'"}}
         }},
        {"data": {"name": "curves"}, "transform": [{"filter": "datum.p=='b' && datum.k=='coh'"}],
         "mark": {"type": "line", "strokeWidth": 2.8, "clip": true, "strokeCap": "butt"},
         "encoding": {
           "x": {"field": "E", "type": "quantitative", "scale": {"type": "log", "domain": [1e-5, 10], "nice": false}, "axis": null},
           "y": {"field": "s", "type": "quantitative", "scale": {"type": "log", "domain": [0.1, 1000], "nice": false}, "axis": null},
           "color": {"field": "k", "type": "nominal", "scale": {"domain": ["inel", "coh"], "range": ["#0000ff", "#4db536"]},
                     "legend": {"title": null, "labelExpr": "datum.value=='inel'?'Inelastic scattering cross section':'Coherent elastic scattering cross section'"}},
           "strokeDash": {"field": "k", "type": "nominal", "scale": {"domain": ["inel", "coh"], "range": [[13, 7], [3, 1]]},
                     "legend": {"title": null, "labelExpr": "datum.value=='inel'?'Inelastic scattering cross section':'Coherent elastic scattering cross section'"}}
         }},
        {"data": {"name": "curves"}, "transform": [{"filter": "datum.p=='b' && datum.k=='tot'"}],
         "mark": {"type": "line", "color": "#ff0000", "strokeWidth": 3.3, "clip": true},
         "encoding": {
           "x": {"field": "E", "type": "quantitative", "scale": {"type": "log", "domain": [1e-5, 10], "nice": false}, "axis": null},
           "y": {"field": "s", "type": "quantitative", "scale": {"type": "log", "domain": [0.1, 1000], "nice": false}, "axis": null}
         }},
        {"data": {"name": "notes"}, "transform": [{"filter": "datum.p=='b'"}],
         "mark": {"type": "text", "align": "left", "baseline": "middle", "font": "Liberation Sans", "fontSize": 19.5, "color": "black"},
         "encoding": {
           "x": {"field": "E", "type": "quantitative", "scale": {"type": "log", "domain": [1e-5, 10], "nice": false}, "axis": null},
           "y": {"field": "s", "type": "quantitative", "scale": {"type": "log", "domain": [0.1, 1000], "nice": false}, "axis": null},
           "text": {"field": "t"}
         }},
        {"data": {"name": "arrows"}, "transform": [{"filter": "datum.p=='b'"}],
         "mark": {"type": "line", "color": "black", "strokeWidth": 1},
         "encoding": {
           "x": {"field": "E", "type": "quantitative", "scale": {"type": "log", "domain": [1e-5, 10], "nice": false}, "axis": null},
           "y": {"field": "s", "type": "quantitative", "scale": {"type": "log", "domain": [0.1, 1000], "nice": false}, "axis": null},
           "detail": {"field": "id"}
         }},
        {"data": {"name": "arrows"}, "transform": [{"filter": "datum.p=='b' && datum.id=='v' && datum.end==1"}],
         "mark": {"type": "point", "shape": "M0,0L-0.5,-1.8L0.5,-1.8Z", "size": 100, "filled": true, "color": "black", "opacity": 1},
         "encoding": {
           "x": {"field": "E", "type": "quantitative", "scale": {"type": "log", "domain": [1e-5, 10], "nice": false}, "axis": null},
           "y": {"field": "s", "type": "quantitative", "scale": {"type": "log", "domain": [0.1, 1000], "nice": false}, "axis": null}
         }},
        {"data": {"name": "arrows"}, "transform": [{"filter": "datum.p=='b' && datum.id=='d' && datum.end==1"}],
         "mark": {"type": "point", "shape": "M0,0L-0.5,-1.8L0.5,-1.8Z", "size": 100, "filled": true, "color": "black", "opacity": 1, "angle": 23},
         "encoding": {
           "x": {"field": "E", "type": "quantitative", "scale": {"type": "log", "domain": [1e-5, 10], "nice": false}, "axis": null},
           "y": {"field": "s", "type": "quantitative", "scale": {"type": "log", "domain": [0.1, 1000], "nice": false}, "axis": null}
         }}
      ]
    }
  ]
}
